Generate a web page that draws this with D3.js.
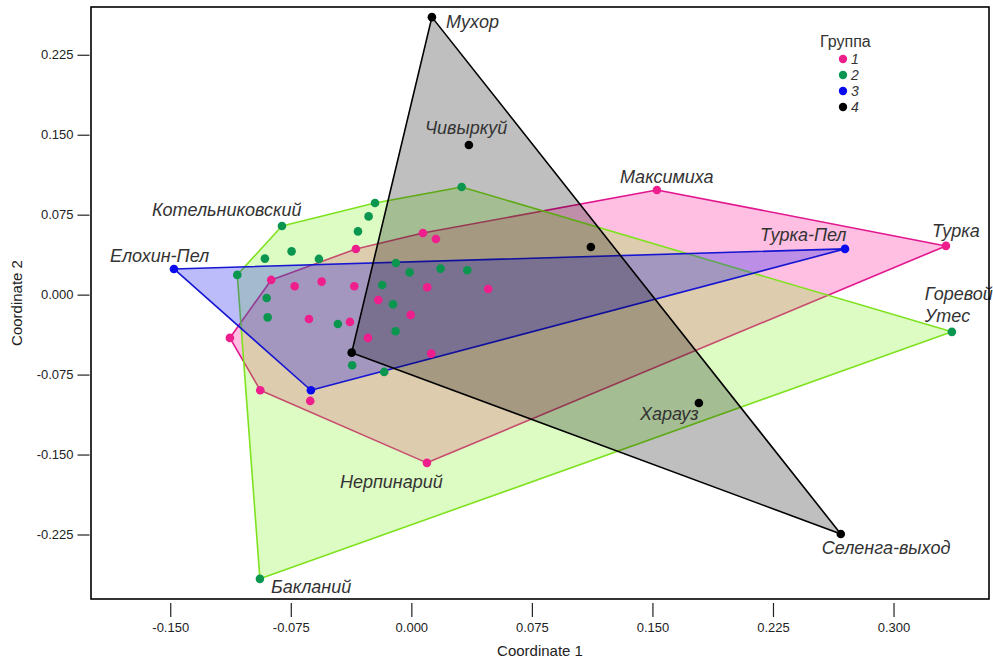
<!DOCTYPE html>
<html>
<head>
<meta charset="utf-8">
<script src="https://cdn.jsdelivr.net/npm/d3@7"></script>
<style>
  html, body { margin: 0; padding: 0; background: #fff; }
  svg { display: block; }
  .tick text { font-family: "Liberation Sans", Arial, sans-serif; font-size: 13px; fill: #222; }
  .site { font-family: "Liberation Sans", Arial, sans-serif; font-style: italic; font-size: 18px; fill: #333; }
  .axis-title { font-family: "Liberation Sans", Arial, sans-serif; font-size: 15px; fill: #222; }
</style>
</head>
<body>
<svg id="chart" width="993" height="661"></svg>
<script>
// Group 1
const g1Names = ["Максимиха", "Турка", "Нерпинарий", "", "", "", "", "", "", "", "", "", "", "", "", "", "", "", "", "", ""];
const g1X = [0.1528, 0.3326, 0.0097, 0.0072, 0.0153, -0.0345, -0.0872, -0.0726, -0.0558, -0.0355, 0.0099, 0.0478, -0.0206, -0.0004, -0.0637, -0.0382, -0.0270, 0.0124, -0.1129, -0.0940, -0.0629];
const g1Y = [0.0982, 0.0457, -0.1578, 0.0578, 0.0522, 0.0428, 0.0138, 0.0078, 0.0122, 0.0078, 0.0069, 0.0053, -0.0050, -0.0190, -0.0228, -0.0256, -0.0406, -0.0553, -0.0406, -0.0897, -0.0997];

// Group 2
const g2Names = ["Бакланий", "Горевой\nУтес", "Котельниковский", "", "", "", "", "", "", "", "", "", "", "", "", "", "", "", "", "", "", "", ""];
const g2X = [-0.0942, 0.3363, -0.0805, 0.0313, -0.0226, -0.0266, -0.0332, -0.0745, -0.0911, -0.0575, -0.1083, -0.0096, -0.0011, 0.0182, 0.0348, -0.0181, -0.0114, -0.0900, -0.0894, -0.0457, -0.0098, -0.0368, -0.0169];
const g2Y = [-0.2666, -0.0349, 0.0644, 0.1010, 0.0860, 0.0734, 0.0593, 0.0406, 0.0338, 0.0335, 0.0185, 0.0297, 0.0209, 0.0244, 0.0228, 0.0091, -0.0091, -0.0031, -0.0213, -0.0275, -0.0344, -0.0663, -0.0725];

// Group 3
const g3Names = ["Елохин-Пел", "Турка-Пел", ""];
const g3X = [-0.1477, 0.2698, -0.0625];
const g3Y = [0.0241, 0.0429, -0.0897];

// Group 4
const g4Names = ["Мухор", "Чивыркуй", "", "", "Харауз", "Селенга-выход"];
const g4X = [0.0128, 0.0358, 0.1117, -0.0371, 0.1789, 0.2672];
const g4Y = [0.2603, 0.1403, 0.0447, -0.0544, -0.1016, -0.2245];

const groupLabels = ["1", "2", "3", "4"];
const xTicks = [-0.150, -0.075, 0.000, 0.075, 0.150, 0.225, 0.300];
const yTicks = [-0.225, -0.150, -0.075, 0.000, 0.075, 0.150, 0.225];

// Per-group appearance: marker, hull outline, hull fill
const styles = [
  { dot: "#ee1e8c", line: "#e2168e", fill: "#ff1493", op: 0.27 },
  { dot: "#0b9650", line: "#7ee21e", fill: "#78f410", op: 0.25 },
  { dot: "#0a0aee", line: "#1616d2", fill: "#1010f0", op: 0.28 },
  { dot: "#000000", line: "#000000", fill: "#000000", op: 0.25 }
];

// Where each site name sits relative to its marker (px): [dx, dy of baseline]
const labelOffset = {
  "Мухор": [14, 11], "Чивыркуй": [-44, -11], "Максимиха": [-37, -7],
  "Котельниковский": [-130, -10], "Елохин-Пел": [-64, -7], "Турка-Пел": [-85, -8],
  "Турка": [-14, -9], "Горевой\nУтес": [-27, -32], "Нерпинарий": [-87, 25],
  "Харауз": [-59, 17], "Селенга-выход": [-19, 20], "Бакланий": [11, 14]
};

const groups = [
  [g1X, g1Y, g1Names], [g2X, g2Y, g2Names], [g3X, g3Y, g3Names], [g4X, g4Y, g4Names]
].map(([xs, ys, ns], gi) => xs.map((x, i) => ({ x, y: ys[i], name: ns[i], g: gi })));

const frame = { left: 91, right: 989, top: 7, bottom: 599 };
const x = d3.scaleLinear().domain([-0.1993, 0.3594]).range([frame.left, frame.right]);
const y = d3.scaleLinear().domain([-0.2855, 0.2698]).range([frame.bottom, frame.top]);

const svg = d3.select("#chart");
const fmt = v => d3.format(".3f")(v).replace("−", "-");

// Convex hulls, drawn group by group so overlaps blend
const hulls = svg.append("g");
groups.forEach((pts, gi) => {
  const hull = d3.polygonHull(pts.map(p => [x(p.x), y(p.y)]));
  const s = styles[gi];
  hulls.append("path")
    .attr("d", "M" + hull.join("L") + "Z")
    .attr("fill", s.fill).attr("fill-opacity", s.op)
    .attr("stroke", s.line).attr("stroke-width", 1.6)
    .attr("stroke-linejoin", "round");
});

// Markers
const dots = svg.append("g");
groups.forEach((pts, gi) => {
  dots.selectAll(null).data(pts).enter().append("circle")
    .attr("cx", d => x(d.x)).attr("cy", d => y(d.y)).attr("r", 4.3)
    .attr("fill", styles[gi].dot);
});

// Site names
const labels = svg.append("g");
groups.flat().filter(d => d.name).forEach(d => {
  const [dx, dy] = labelOffset[d.name];
  const t = labels.append("text").attr("class", "site")
    .attr("x", x(d.x) + dx).attr("y", y(d.y) + dy);
  d.name.split("\n").forEach((line, i) => {
    t.append("tspan").attr("x", x(d.x) + dx).attr("dy", i ? 22 : 0).text(line);
  });
});

// Frame
svg.append("rect")
  .attr("x", frame.left).attr("y", frame.top)
  .attr("width", frame.right - frame.left).attr("height", frame.bottom - frame.top)
  .attr("fill", "none").attr("stroke", "#000").attr("stroke-width", 1.6);

// Axes
const yAxis = svg.append("g").attr("transform", `translate(${frame.left - 1.5},0)`)
  .call(d3.axisLeft(y).tickValues(yTicks).tickFormat(fmt).tickSize(12).tickPadding(4));
const xAxis = svg.append("g").attr("transform", `translate(0,${frame.bottom + 4})`)
  .call(d3.axisBottom(x).tickValues(xTicks).tickFormat(fmt).tickSize(14).tickPadding(6));
[yAxis, xAxis].forEach(a => {
  a.select(".domain").remove();
  a.selectAll(".tick line").attr("stroke", "#222").attr("stroke-width", 1.2);
});

svg.append("text").attr("class", "axis-title")
  .attr("x", (frame.left + frame.right) / 2).attr("y", 656)
  .attr("text-anchor", "middle").text("Coordinate 1");
svg.append("text").attr("class", "axis-title")
  .attr("transform", `translate(22,${(frame.top + frame.bottom) / 2}) rotate(-90)`)
  .attr("text-anchor", "middle").text("Coordinate 2");

// Legend
const legend = svg.append("g");
legend.append("text").attr("x", 820).attr("y", 47)
  .style("font-family", "'Liberation Sans', Arial, sans-serif").style("font-size", "16px").style("fill", "#333")
  .text("Группа");
groupLabels.forEach((lab, i) => {
  const cy = 59 + i * 16;
  legend.append("circle").attr("cx", 843).attr("cy", cy).attr("r", 4.2).attr("fill", styles[i].dot);
  legend.append("text").attr("x", 851).attr("y", cy + 5)
    .style("font-family", "'Liberation Sans', Arial, sans-serif").style("font-style", "italic")
    .style("font-size", "14px").style("fill", "#333").text(lab);
});
</script>
</body>
</html>
